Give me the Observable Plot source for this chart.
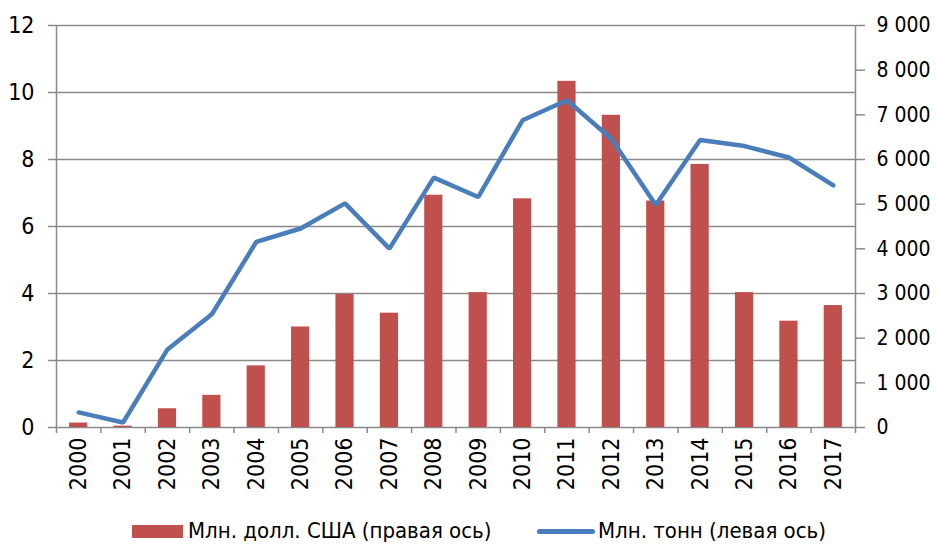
<!DOCTYPE html>
<html><head><meta charset="utf-8">
<script src="https://cdn.jsdelivr.net/npm/d3@7"></script>
<script src="https://cdn.jsdelivr.net/npm/@observablehq/plot@0.6"></script>
<style>
body{margin:0;background:#fff;width:936px;height:544px;overflow:hidden;}
#wrap{position:relative;width:936px;height:544px;font-family:'Liberation Sans Narrow','Arial Narrow','DejaVu Sans Condensed',sans-serif;}
#legend{position:absolute;left:0;top:505px;width:936px;height:39px;font-size:22px;color:#000;}
.sw{position:absolute;}
.lt{position:absolute;white-space:nowrap;line-height:22px;}
</style></head>
<body><div id="wrap"><div id="chart"></div><div id="legend"></div></div>
<script>
const years = [2000,2001,2002,2003,2004,2005,2006,2007,2008,2009,2010,2011,2012,2013,2014,2015,2016,2017];
const tons = [0.45,0.15,2.33,3.38,5.54,5.94,6.69,5.34,7.46,6.88,9.17,9.77,8.62,6.64,8.58,8.40,8.06,7.23];
const usd = [100,30,420,720,1380,2250,2980,2560,5200,3020,5120,7750,6990,5070,5890,3020,2380,2730];
const leftTicks = [0,2,4,6,8,10,12];
const rightTicks = [0,1000,2000,3000,4000,5000,6000,7000,8000,9000];
const seriesNames = ["Млн. долл. США (правая ось)","Млн. тонн (левая ось)"];
const barColor = "#C0504D", lineColor = "#4A7EBB", gridColor = "#8a8a8a";

const ratio = 9000/12;
const data = years.map((y,i)=>({year:y, tons:tons[i], usd:usd[i]}));
const fmt = d3.formatLocale({thousands:" ", grouping:[3], decimal:",", currency:["",""]}).format(",d");
const bounds = d3.range(years[0]-0.5, years[years.length-1]+0.51, 1);
const halfBar = 0.205;

const chart = Plot.plot({
  width: 936, height: 505,
  marginLeft: 56, marginRight: 81, marginTop: 25, marginBottom: 78,
  style: {fontFamily:"'Liberation Sans Narrow','Arial Narrow','DejaVu Sans Condensed',sans-serif", fontSize:"23px", color:"#000", background:"#fff"},
  x: {type:"linear", domain:[bounds[0], bounds[bounds.length-1]]},
  y: {domain:[0,12]},
  marks: [
    Plot.ruleY(leftTicks, {stroke: gridColor, strokeWidth: 1.5}),
    Plot.ruleX([bounds[0], bounds[bounds.length-1]], {stroke: gridColor, strokeWidth: 1.5}),
    Plot.rectY(data, {x1: d=>d.year-halfBar, x2: d=>d.year+halfBar, y1: 0, y2: d=>d.usd/ratio, fill: barColor}),
    Plot.line(data, {x:"year", y:"tons", stroke: lineColor, strokeWidth: 4.5, strokeLinejoin:"miter", strokeLinecap:"round"}),
    Plot.axisY(leftTicks, {anchor:"left", tickSize: 8, tickPadding: 14, stroke: gridColor, strokeWidth:1.5, label:null, tickFormat: d=>String(d)}),
    Plot.axisY(rightTicks.map(v=>v/ratio), {anchor:"right", tickSize: 9, tickPadding: 12, fontSize: 21, stroke: gridColor, strokeWidth:1.5, label:null, tickFormat: d=>fmt(Math.round(d*ratio))}),
    Plot.axisX(bounds, {tickSize: 6, stroke: gridColor, strokeWidth:1.5, tickFormat: ()=>"", label:null}),
    Plot.axisX(years, {tickSize: 0, tickPadding: 10, tickRotate: -90, label:null, tickFormat: d=>String(d)})
  ]
});
document.getElementById("chart").appendChild(chart);

const lg = document.getElementById("legend");
lg.innerHTML = `
<div class="sw" style="left:132px;top:20px;width:51px;height:13px;background:${barColor}"></div>
<div class="lt" style="left:188px;top:15px;">${seriesNames[0]}</div>
<div class="sw" style="left:537px;top:24px;width:58px;height:5px;border-radius:3px;background:${lineColor}"></div>
<div class="lt" style="left:598px;top:15px;">${seriesNames[1]}</div>`;
</script></body></html>
